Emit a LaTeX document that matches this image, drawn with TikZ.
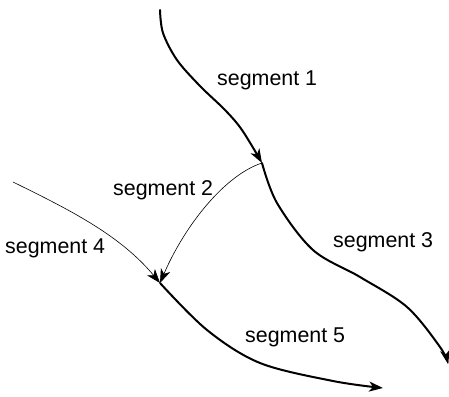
\documentclass[tikz,border=0pt]{standalone}
\usepackage{fontspec}
\setmainfont{Liberation Sans}
\usetikzlibrary{arrows.meta}

\begin{document}
\begin{tikzpicture}[
  x=1pt, y=-1pt,
  font=\fontsize{21.4}{25}\selectfont,
  seg/.style={line width=2pt, line cap=round, -{Stealth[length=14pt, width=10pt, inset=4pt]}},
  thinseg/.style={line width=0.6pt, -{Stealth[length=14pt, width=10pt, inset=4pt]}},
  lbl/.style={inner sep=0pt, anchor=base west},
]
\useasboundingbox (0,0) rectangle (449,396);
% ---------------- junctions and ends -----------------
\coordinate (s1) at (160,10);
\coordinate (j1) at (262,163);
\coordinate (s4) at (13,182);
\coordinate (j2) at (160,283);
\coordinate (e3) at (448,364);
\coordinate (e5) at (383,388);
% ---------------- segments -----------------
\draw[seg] plot[smooth, tension=0.55] coordinates {(s1) (163,33) (177,60) (200,86) (225,110) (242,130) (j1)};
\draw[seg] plot[smooth, tension=0.55] coordinates {(j1) (277,203) (313,250) (360,277) (407,307) (440,347) (e3)};
\draw[thinseg] (j1) .. controls (225,175) and (185,225) .. (j2);
\draw[thinseg] (s4) .. controls (70,210) and (120,235) .. (j2);
\draw[seg] plot[smooth, tension=0.55] coordinates {(j2) (207,330) (260,363) (333,381) (e5)};
% ---------------- labels -----------------
\node[lbl] (l1) at (217,85) {segment 1};
\node[lbl] (l2) at (113,195) {segment 2};
\node[lbl] (l3) at (333,247) {segment 3};
\node[lbl] (l4) at (5,253) {segment 4};
\node[lbl] (l5) at (245,342) {segment 5};
\end{tikzpicture}
\end{document}
